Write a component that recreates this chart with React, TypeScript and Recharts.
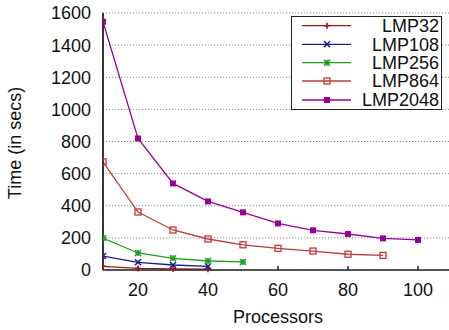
import React from 'react';
import { LineChart, Line, XAxis, YAxis, CartesianGrid, Legend } from 'recharts';

const processors = [10, 20, 30, 40, 50, 60, 70, 80, 90, 100];
const lmp32 = [23, 10, 7, 5];
const lmp108 = [87, 48, 31, 23];
const lmp256 = [199, 106, 73, 56, 50];
const lmp864 = [673, 361, 249, 193, 157, 135, 118, 98, 91];
const lmp2048 = [1546, 819, 539, 427, 359, 290, 247, 224, 197, 187];

const xTicks = [20, 40, 60, 80, 100];
const yTicks = [0, 200, 400, 600, 800, 1000, 1200, 1400, 1600];

type Kind = 'plus' | 'cross' | 'star' | 'openSquare' | 'square';

const series: { key: string; name: string; values: number[]; color: string; kind: Kind }[] = [
  { key: 'lmp32', name: 'LMP32', values: lmp32, color: '#a01818', kind: 'plus' },
  { key: 'lmp108', name: 'LMP108', values: lmp108, color: '#1c1c8c', kind: 'cross' },
  { key: 'lmp256', name: 'LMP256', values: lmp256, color: '#1e9e1e', kind: 'star' },
  { key: 'lmp864', name: 'LMP864', values: lmp864, color: '#c03a3a', kind: 'openSquare' },
  { key: 'lmp2048', name: 'LMP2048', values: lmp2048, color: '#990099', kind: 'square' },
];

const data = processors.map((p, i) => {
  const row: Record<string, number | undefined> = { x: p };
  series.forEach((s) => {
    row[s.key] = s.values[i];
  });
  return row;
});

const FONT = '"Liberation Sans", Arial, Helvetica, sans-serif';

function Marker({ kind, cx, cy, color }: { kind: Kind; cx: number; cy: number; color: string }) {
  const r = 3;
  switch (kind) {
    case 'plus':
      return (
        <g stroke={color} strokeWidth={1.6}>
          <line x1={cx - r} x2={cx + r} y1={cy} y2={cy} />
          <line x1={cx} x2={cx} y1={cy - r} y2={cy + r} />
        </g>
      );
    case 'cross':
      return (
        <g stroke={color} strokeWidth={1.6}>
          <line x1={cx - r} x2={cx + r} y1={cy - r} y2={cy + r} />
          <line x1={cx - r} x2={cx + r} y1={cy + r} y2={cy - r} />
        </g>
      );
    case 'star':
      return (
        <g stroke={color} strokeWidth={1.6}>
          <line x1={cx - r} x2={cx + r} y1={cy - r} y2={cy + r} />
          <line x1={cx - r} x2={cx + r} y1={cy + r} y2={cy - r} />
          <line x1={cx - r} x2={cx + r} y1={cy} y2={cy} />
          <line x1={cx} x2={cx} y1={cy - r} y2={cy + r} />
        </g>
      );
    case 'openSquare':
      return <rect x={cx - r} y={cy - r} width={2 * r} height={2 * r} fill="none" stroke={color} strokeWidth={1.3} />;
    default:
      return <rect x={cx - r} y={cy - r} width={2 * r} height={2 * r} fill={color} />;
  }
}

const legendRowY = [9.7, 28.3, 46.7, 65, 84];

function LegendBox() {
  return (
    <svg width={151} height={94} style={{ display: 'block' }}>
      <rect x={0.5} y={0.5} width={150} height={93} fill="#fff" stroke="#222" strokeWidth={1} />
      {series.map((s, i) => {
        const y = legendRowY[i];
        return (
          <g key={s.key}>
            <line x1={11} x2={60} y1={y} y2={y} stroke={s.color} strokeWidth={1.3} />
            <Marker kind={s.kind} cx={36} cy={y} color={s.color} />
            <text x={148} y={y} dy="0.355em" textAnchor="end" fontFamily={FONT} fontSize={18} fill="#111">
              {s.name}
            </text>
          </g>
        );
      })}
    </svg>
  );
}

export default function App() {
  return (
    <div style={{ position: 'absolute', left: 0, top: 0, width: 449, height: 330, overflow: 'hidden', background: '#fff' }}>
      <LineChart width={460} height={330} data={data} margin={{ top: 13, right: 7, left: 0, bottom: 0 }}>
        <CartesianGrid vertical={false} stroke="#888" strokeDasharray="1.2 1.8" />
        <XAxis
          dataKey="x"
          type="number"
          domain={[10, 110]}
          ticks={xTicks}
          allowDataOverflow
          height={60}
          tickSize={-4}
          tickMargin={17}
          stroke="#222"
          strokeWidth={1.5}
          tick={{ fontFamily: FONT, fontSize: 18, fill: '#111' }}
          label={{
            content: () => (
              <text x={278} y={323} textAnchor="middle" fontFamily={FONT} fontSize={18} fill="#111">
                Processors
              </text>
            ),
          }}
        />
        <XAxis
          xAxisId="top"
          dataKey="x"
          type="number"
          orientation="top"
          domain={[10, 110]}
          ticks={xTicks}
          allowDataOverflow
          height={0}
          mirror
          tick={false}
          axisLine={false}
          tickSize={4}
          stroke="#222"
        />
        <YAxis
          type="number"
          domain={[0, 1600]}
          ticks={yTicks}
          width={103}
          tickLine={false}
          tickSize={6}
          tickMargin={6}
          stroke="#222"
          strokeWidth={1.8}
          tick={{ fontFamily: FONT, fontSize: 18, fill: '#111' }}
          label={{
            content: () => (
              <text
                x={15}
                y={143}
                transform="rotate(-90 15 143)"
                dy="0.355em"
                textAnchor="middle"
                fontFamily={FONT}
                fontSize={18}
                fill="#111"
              >
                Time (in secs)
              </text>
            ),
          }}
        />
        {series.map((s) => (
          <Line
            key={s.key}
            dataKey={s.key}
            name={s.name}
            stroke={s.color}
            strokeWidth={1.3}
            isAnimationActive={false}
            dot={(props: any) => {
              const { cx, cy, index } = props;
              if (cx == null || cy == null || props.value == null) return <g key={`${s.key}-${index}`} />;
              return (
                <g key={`${s.key}-${index}`}>
                  <Marker kind={s.kind} cx={cx} cy={cy} color={s.color} />
                </g>
              );
            }}
            activeDot={false}
          />
        ))}
        <Legend
          layout="vertical"
          align="center"
          verticalAlign="middle"
          wrapperStyle={{ position: 'absolute', left: 291, top: 16, width: 151, height: 94 }}
          content={() => <LegendBox />}
        />
      </LineChart>
    </div>
  );
}
